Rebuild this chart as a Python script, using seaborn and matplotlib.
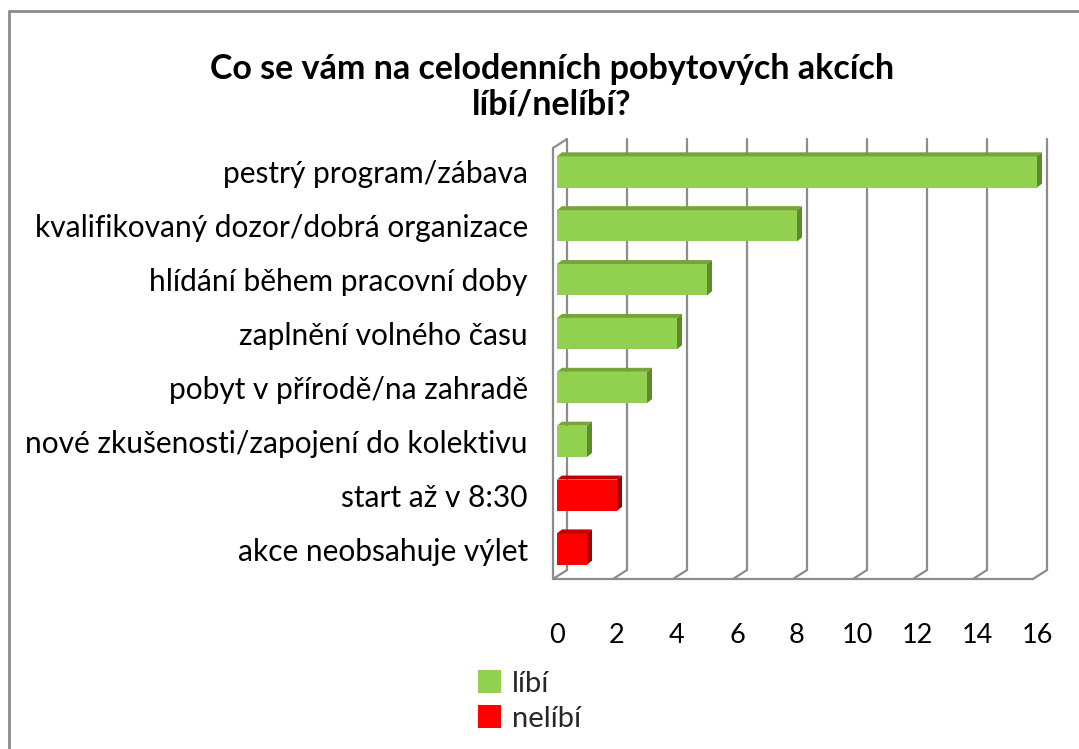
import matplotlib
matplotlib.use("Agg")
import matplotlib.pyplot as plt
import matplotlib.transforms as mtransforms
from matplotlib.patches import Polygon, Patch
from matplotlib.lines import Line2D
import seaborn as sns
import pandas as pd

# ---- data ----
categories = [
    "pestrý program/zábava",
    "kvalifikovaný dozor/dobrá organizace",
    "hlídání během pracovní doby",
    "zaplnění volného času",
    "pobyt v přírodě/na zahradě",
    "nové zkušenosti/zapojení do kolektivu",
    "start až v 8:30",
    "akce neobsahuje výlet",
]
values = [16, 8, 5, 4, 3, 1, 2, 1]
groups = ["líbí", "líbí", "líbí", "líbí", "líbí", "líbí", "nelíbí", "nelíbí"]
series_names = ["líbí", "nelíbí"]
x_ticks = [0, 2, 4, 6, 8, 10, 12, 14, 16]
title_text = "Co se vám na celodenních pobytových akcích\nlíbí/nelíbí?"

front_colors = {"líbí": "#92D050", "nelíbí": "#FF0000"}
top_colors = {"líbí": "#76A33C", "nelíbí": "#C00000"}
side_colors = {"líbí": "#5E8A2C", "nelíbí": "#A00000"}

df = pd.DataFrame({"kategorie": categories, "počet": values, "typ": groups})

sns.set_theme(style="white")
plt.rcParams["font.family"] = ["Lato", "DejaVu Sans"]

W, H = 1079, 749
fig = plt.figure(figsize=(W / 100, H / 100), dpi=100)
ax = fig.add_axes([557 / W, 1 - 576 / H, (1037 - 557) / W, (576 - 145) / H])

sns.barplot(data=df, y="kategorie", x="počet", hue="typ", dodge=False,
            palette=front_colors, hue_order=series_names, order=categories,
            width=0.58, orient="h", ax=ax, legend=False, saturation=1,
            linewidth=0, zorder=3)

ax.set_xlim(0, 16)
ax.set_ylim(len(categories) - 0.5, -0.5)
ax.set_xlabel("")
ax.set_ylabel("")
for s in ax.spines.values():
    s.set_visible(False)
ax.set_xticks(x_ticks)
ax.set_xticklabels([str(t) for t in x_ticks], fontsize=19.5)
ax.tick_params(axis="x", length=0, pad=34)
ax.tick_params(axis="y", length=0, pad=21, labelsize=21.5)
for lab in ax.get_yticklabels():
    lab.set_color("black")
for lab in ax.get_xticklabels():
    lab.set_color("black")

px = lambda dx, dy: mtransforms.ScaledTranslation(dx / 100, dy / 100, fig.dpi_scale_trans)
gc = "#8C8C8C"
lw = 1.6
y0, y1 = ax.get_ylim()
back = ax.transData + px(10, 6)
front = ax.transData + px(-4, -3)
# back wall gridlines
for t in x_ticks:
    ax.plot([t, t], [y0, y1], color=gc, lw=lw, transform=back, zorder=1, clip_on=False)
# floor front edge
ax.plot([x_ticks[0], x_ticks[-1]], [y0, y0], color=gc, lw=lw, transform=front, zorder=1, clip_on=False)
# floor connectors front->back
for t in x_ticks:
    p_front = front.transform((t, y0))
    p_back = back.transform((t, y0))
    ax.plot([p_front[0], p_back[0]], [p_front[1], p_back[1]], color=gc, lw=lw,
            transform=None, zorder=1, clip_on=False)
# left wall
ax.plot([0, 0], [y0, y1], color=gc, lw=lw, transform=front, zorder=1, clip_on=False)
p1 = front.transform((0, y1))
p2 = back.transform((0, y1))
ax.plot([p1[0], p2[0]], [p1[1], p2[1]], color=gc, lw=lw, transform=None, zorder=1, clip_on=False)

# 3D faces of bars
ddx, ddy = 5, 4
for bar, g in zip(ax.patches, groups):
    x0 = bar.get_x()
    w = bar.get_width()
    yb = bar.get_y()
    h = bar.get_height()
    if w <= 0:
        continue
    a = ax.transData.transform((x0, yb))
    b = ax.transData.transform((x0 + w, yb))
    c = ax.transData.transform((x0 + w, yb + h))
    top = Polygon([a, (a[0] + ddx, a[1] + ddy), (b[0] + ddx, b[1] + ddy), b],
                  closed=True, facecolor=top_colors[g], edgecolor="none",
                  transform=None, zorder=4)
    side = Polygon([b, (b[0] + ddx, b[1] + ddy), (c[0] + ddx, c[1] + ddy), c],
                   closed=True, facecolor=side_colors[g], edgecolor="none",
                   transform=None, zorder=4)
    fig.add_artist(top)
    fig.add_artist(side)

# title
fig.text(552 / W, 1 - 87 / H, title_text, ha="center", va="center",
         fontsize=24.5, fontweight="bold", linespacing=1.15, color="black")

# legend
handles = [Patch(facecolor=front_colors[n], edgecolor="none") for n in series_names]
fig.legend(handles, series_names, loc="center left",
           bbox_to_anchor=(478 / W, 1 - 701 / H), frameon=False,
           fontsize=21, handlelength=0.8, handleheight=0.8,
           handletextpad=0.35, labelspacing=0.3, borderaxespad=0, borderpad=0)

# outer border (top and left visible)
fig.add_artist(Line2D([9 / W, 9 / W], [0, 1 - 11 / H], color="#8C8C8C", lw=2, transform=fig.transFigure))
fig.add_artist(Line2D([9 / W, 1], [1 - 11 / H, 1 - 11 / H], color="#8C8C8C", lw=2, transform=fig.transFigure))

fig.savefig("out.png", dpi=100, facecolor="white")
